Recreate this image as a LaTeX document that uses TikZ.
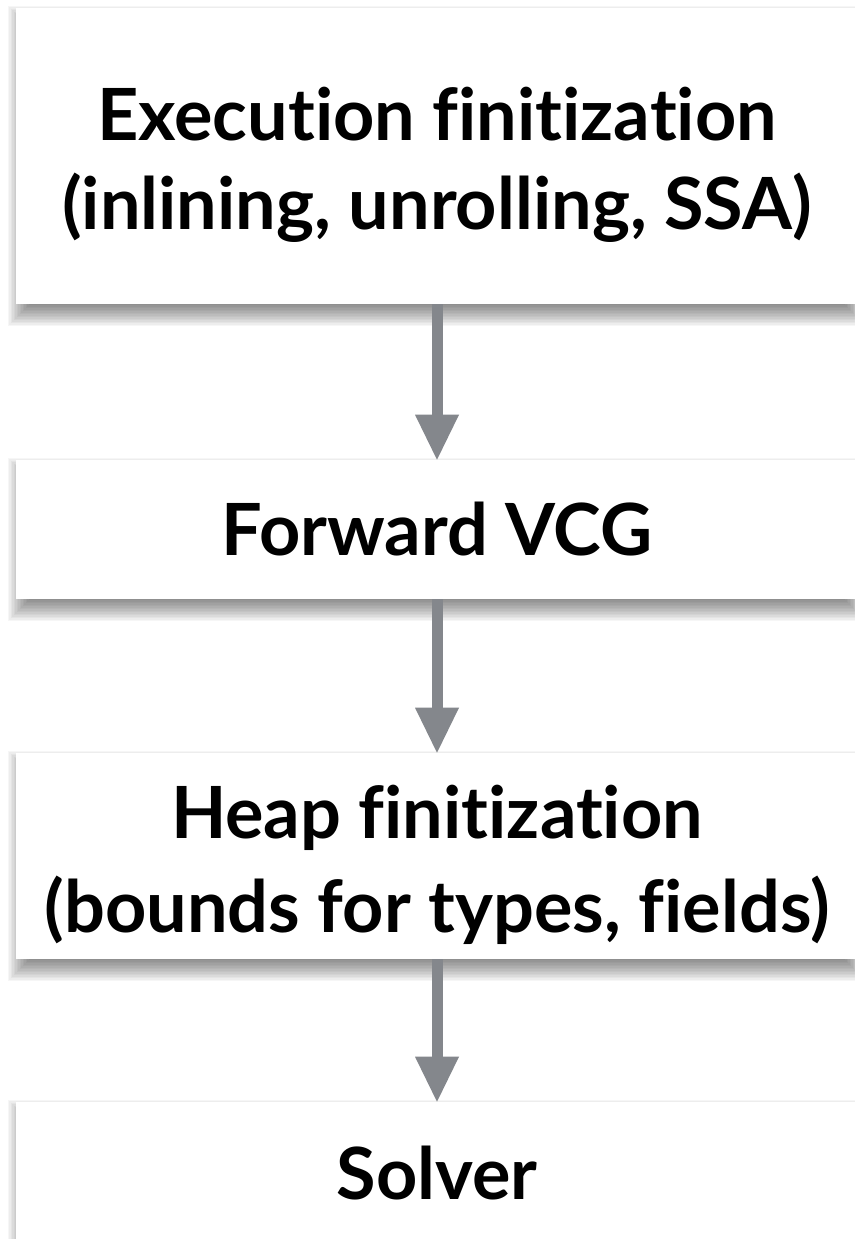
\documentclass[tikz,border=0pt]{standalone}
\usepackage{fontspec}
\setmainfont{Lato}[Ligatures=NoCommon]
\usetikzlibrary{arrows.meta}
\definecolor{flowgray}{RGB}{132,135,140}
\pgfdeclarelayer{shadowlayer}
\pgfsetlayers{shadowlayer,main}
% soft drop shadow: stacked translucent rectangles, shifted downwards
\newcommand\stageshadow[1]{%
  \foreach \r in {-12,-10.5,...,12.1}{%
    \fill[black, fill opacity=0.035]
      ([xshift={-(\r-4)*0.75pt}, yshift={-(10+\r)*0.75pt}]#1.south west)
      rectangle
      ([xshift={(\r-4)*0.75pt}, yshift={(\r-10)*0.75pt}]#1.north east);
  }%
}
\begin{document}
\begin{tikzpicture}[x=0.75pt,y=-0.75pt,
  stagebox/.style={fill=white, draw=none, inner sep=0pt, minimum width=631.5pt},
  stagetext/.style={inner sep=0pt, anchor=base, text=black,
    font=\bfseries\fontsize{54}{60}\selectfont},
  flowarrow/.style={draw=flowgray, line width=8.25pt,
    -{Triangle[length=33.75pt, width=33pt, line width=0pt]}}]
\useasboundingbox (0,0) rectangle (854,1239);

% pipeline stages
\node[stagebox, minimum height=222pt] (b1) at (437,156) {};
\node[stagebox, minimum height=104.25pt] (b2) at (437,529.5) {};
\node[stagebox, minimum height=154.5pt] (b3) at (437,856) {};
\node[stagebox, minimum height=111pt] (b4) at (437,1176) {};

\begin{pgfonlayer}{shadowlayer}
  \fill[white] (0,0) rectangle (854,1239);
  \stageshadow{b1}
  \stageshadow{b2}
  \stageshadow{b3}
  \stageshadow{b4}
\end{pgfonlayer}

% stage captions
\node[stagetext] (t1a) at (437,140) {Execution finitization};
\node[stagetext] (t1b) at (437,229) {(inlining, unrolling, SSA)};
\node[stagetext] (t2) at (437,555) {Forward VCG};
\node[stagetext] (t3a) at (437,838) {Heap finitization};
\node[stagetext] (t3b) at (437,932) {(bounds for types, fields)};
\node[stagetext] (t4) at (437,1199) {Solver};

% flow between stages
\draw[flowarrow] (b1.south) -- (b2.north);
\draw[flowarrow] (b2.south) -- (b3.north);
\draw[flowarrow] (b3.south) -- (b4.north);
\end{tikzpicture}
\end{document}
